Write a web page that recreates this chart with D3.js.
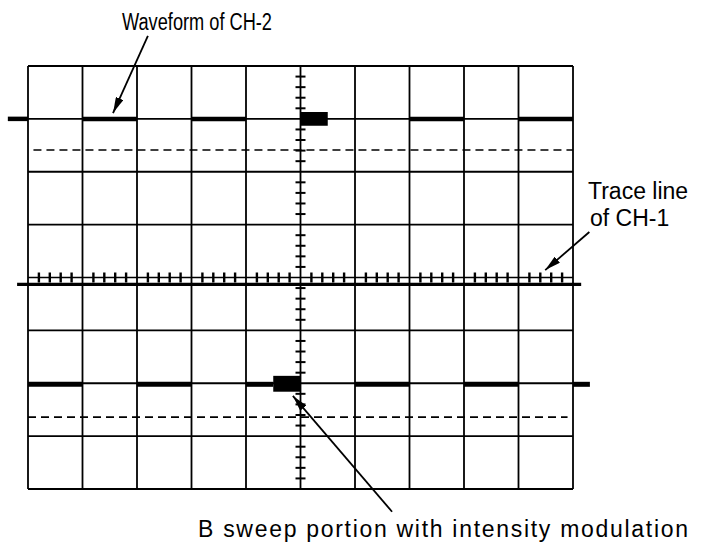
<!DOCTYPE html>
<html>
<head>
<meta charset="utf-8">
<script src="https://cdn.jsdelivr.net/npm/d3@7"></script>
<style>
  html, body { margin: 0; padding: 0; background: #fff; }
  svg { display: block; }
  text { font-family: "Liberation Sans", Arial, Helvetica, sans-serif; fill: #000; }
</style>
</head>
<body>
<svg id="chart" width="708" height="546"></svg>
<script>
// ---- data (in graticule divisions) ----
const xDivisions = [0, 1, 2, 3, 4, 5, 6, 7, 8, 9, 10];
const yDivisions = [-4, -3, -2, -1, 0, 1, 2, 3, 4];
const minorStep = 0.2;

// CH-2 square wave (upper trace)
const ch2High = 3.0;
const ch2Low = 2.41;
const ch2HighSegments = [[-0.37, 0], [1, 2], [3, 4], [7, 8], [9, 10]];
const ch2LowRange = [0.1, 10];
const ch2Block = { x0: 5.0, x1: 5.5, y0: 2.87, y1: 3.13 };

// CH-1 trace line
const ch1Level = -0.13;
const ch1Range = [-0.2, 10.15];

// B sweep (lower trace)
const bHigh = -2.02;
const bLow = -2.64;
const bHighSegments = [[0, 1], [2, 3], [4, 4.5], [6, 7], [8, 9], [10, 10.31]];
const bLowRange = [0, 9.9];
const bBlock = { x0: 4.5, x1: 5.0, y0: -1.86, y1: -2.16 };

// annotations: [tail x, tail y, tip x, tip y]
const labels = ["Waveform of CH-2", "Trace line", "of CH-1", "B sweep portion with intensity modulation"];
const arrows = [
  [2.2, 4.57, 1.56, 3.11],
  [10.3, 0.86, 9.49, 0.14],
  [6.68, -4.43, 4.86, -2.24]
];

// ---- drawing ----
const svg = d3.select("#chart");
const x = d3.scaleLinear().domain([0, 10]).range([28, 573]);
const y = d3.scaleLinear().domain([-4, 4]).range([489, 66]);

const g = svg.append("g");

// graticule
g.selectAll("line.v").data(xDivisions).join("line")
  .attr("x1", d => x(d)).attr("x2", d => x(d))
  .attr("y1", y(4)).attr("y2", y(-4))
  .attr("stroke", "#000").attr("stroke-width", 1.8);
g.selectAll("line.h").data(yDivisions).join("line")
  .attr("x1", x(0)).attr("x2", x(10))
  .attr("y1", d => y(d)).attr("y2", d => y(d))
  .attr("stroke", "#000").attr("stroke-width", d => d === 0 ? 1.4 : 1.8);

// minor ticks on centre axes
const minorX = d3.range(0, 10 + 1e-6, minorStep).filter(v => Math.abs(v - Math.round(v)) > 1e-6);
const minorY = d3.range(-4, 4 + 1e-6, minorStep).filter(v => Math.abs(v - Math.round(v)) > 1e-6);
g.selectAll("line.mx").data(minorX).join("line")
  .attr("x1", d => x(d)).attr("x2", d => x(d))
  .attr("y1", y(0) - 5).attr("y2", y(0) + 5)
  .attr("stroke", "#000").attr("stroke-width", 2.4);
g.selectAll("line.my").data(minorY).join("line")
  .attr("x1", x(5) - 5).attr("x2", x(5) + 5)
  .attr("y1", d => y(d)).attr("y2", d => y(d))
  .attr("stroke", "#000").attr("stroke-width", 2);

// CH-2 dashed low level
g.append("line")
  .attr("x1", x(ch2LowRange[0])).attr("x2", x(ch2LowRange[1]))
  .attr("y1", y(ch2Low)).attr("y2", y(ch2Low))
  .attr("stroke", "#000").attr("stroke-width", 1.6).attr("stroke-dasharray", "8,5");
// CH-2 thick high segments
g.selectAll("line.ch2").data(ch2HighSegments).join("line")
  .attr("x1", d => x(d[0])).attr("x2", d => x(d[1]))
  .attr("y1", y(ch2High)).attr("y2", y(ch2High))
  .attr("stroke", "#000").attr("stroke-width", 4.5);
g.append("rect")
  .attr("x", x(ch2Block.x0)).attr("width", x(ch2Block.x1) - x(ch2Block.x0))
  .attr("y", y(ch2Block.y1)).attr("height", y(ch2Block.y0) - y(ch2Block.y1))
  .attr("fill", "#000");

// CH-1 trace
g.append("line")
  .attr("x1", x(ch1Range[0])).attr("x2", x(ch1Range[1]))
  .attr("y1", y(ch1Level)).attr("y2", y(ch1Level))
  .attr("stroke", "#000").attr("stroke-width", 3.2);

// B sweep dashed low level
g.append("line")
  .attr("x1", x(bLowRange[0])).attr("x2", x(bLowRange[1]))
  .attr("y1", y(bLow)).attr("y2", y(bLow))
  .attr("stroke", "#000").attr("stroke-width", 1.6).attr("stroke-dasharray", "8,5");
g.selectAll("line.bs").data(bHighSegments).join("line")
  .attr("x1", d => x(d[0])).attr("x2", d => x(d[1]))
  .attr("y1", y(bHigh)).attr("y2", y(bHigh))
  .attr("stroke", "#000").attr("stroke-width", 5);
g.append("rect")
  .attr("x", x(bBlock.x0)).attr("width", x(bBlock.x1) - x(bBlock.x0))
  .attr("y", y(bBlock.y0)).attr("height", y(bBlock.y1) - y(bBlock.y0))
  .attr("fill", "#000");

// arrows
svg.append("defs").append("marker")
  .attr("id", "ah").attr("viewBox", "0 0 16 8")
  .attr("refX", 16).attr("refY", 4)
  .attr("markerUnits", "userSpaceOnUse")
  .attr("markerWidth", 16).attr("markerHeight", 8)
  .attr("orient", "auto")
  .append("path").attr("d", "M0,0 L16,4 L0,8 Z").attr("fill", "#000");

g.selectAll("line.arrow").data(arrows).join("line")
  .attr("x1", d => x(d[0])).attr("y1", d => y(d[1]))
  .attr("x2", d => x(d[2])).attr("y2", d => y(d[3]))
  .attr("stroke", "#000").attr("stroke-width", 1.8)
  .attr("marker-end", "url(#ah)");

// labels
svg.append("text").attr("x", 122).attr("y", 30)
  .attr("font-size", 23).attr("textLength", 150).attr("lengthAdjust", "spacingAndGlyphs")
  .text(labels[0]);
svg.append("text").attr("x", 588).attr("y", 199)
  .attr("font-size", 23)
  .text(labels[1]);
svg.append("text").attr("x", 590).attr("y", 226)
  .attr("font-size", 23)
  .text(labels[2]);
svg.append("text").attr("x", 198).attr("y", 537)
  .attr("font-size", 23).attr("textLength", 490).attr("lengthAdjust", "spacing")
  .text(labels[3]);
</script>
</body>
</html>
